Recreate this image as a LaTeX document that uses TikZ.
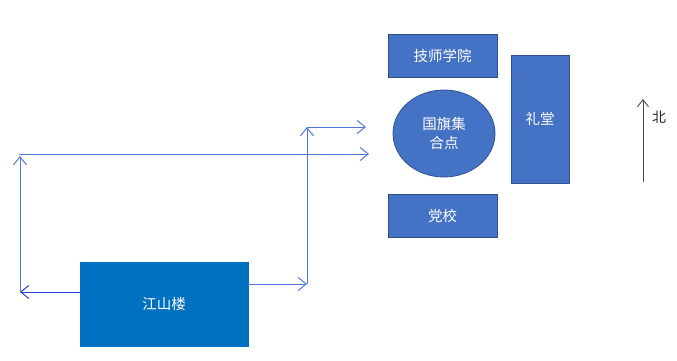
\documentclass[tikz,border=0pt]{standalone}
\usepackage{fontspec}
\newfontfamily\cjk{Noto Sans CJK SC}
\usetikzlibrary{arrows.meta,shapes.geometric}
\definecolor{boxblue}{HTML}{4472C4}
\definecolor{boxedge}{HTML}{2F528F}
\definecolor{jsblue}{HTML}{0070C0}
\definecolor{arrblue}{HTML}{5078DC}
\definecolor{arrdark}{HTML}{2A3BE8}
\begin{document}
\begin{tikzpicture}[x=1pt,y=-1pt,
  bld/.style={rectangle, fill=boxblue, draw=boxedge, line width=0.8pt, text=white,
    font=\cjk\fontsize{14.5}{19}\selectfont, inner sep=0pt, align=center},
  conn/.style={draw=arrblue, line width=1pt, -{Straight Barb[length=8pt,width=13pt]}}]
\useasboundingbox (0,0) rectangle (677,360);
\node[bld, minimum width=109pt, minimum height=43pt] (jsxy) at (442.5,55.5) {技师学院};
\node[bld, minimum width=58pt, minimum height=128pt] (lt) at (540,119) {礼堂};
\node[bld, ellipse, minimum width=102pt, minimum height=87pt] (gq) at (444,133.5) {国旗集\\合点};
\node[bld, minimum width=109pt, minimum height=43pt] (dx) at (442.5,215.5) {党校};
\node[bld, fill=jsblue, draw=jsblue, minimum width=168pt, minimum height=84pt] (jsl) at (164,304) {江山楼};
% left route
\coordinate (p1) at (20,292);
\coordinate (p2) at (20,156);
\coordinate (p3) at (19,154);
\coordinate (p4) at (369,154);
\draw[conn, draw=arrdark] (jsl.west |- p1) -- (p1);
\draw[conn] (p1) -- (p2);
\draw[conn] (p3) -- (p4);
% right route
\coordinate (q1) at (307,284);
\coordinate (q2) at (307,127);
\coordinate (q3) at (366,127);
\draw[conn] (jsl.east |- q1) -- (q1);
\draw[conn] (q1) -- (q2);
\draw[conn] (q2) -- (q3);
% north
\coordinate (n1) at (643,182);
\coordinate (n2) at (643,99);
\draw[draw=black!70, line width=0.9pt, -{Straight Barb[length=7pt,width=11pt]}] (n1) -- (n2);
\node[font=\cjk\fontsize{14}{17}\selectfont, text=black!85, inner sep=0pt] (bei) at (659,117) {北};
\end{tikzpicture}
\end{document}
